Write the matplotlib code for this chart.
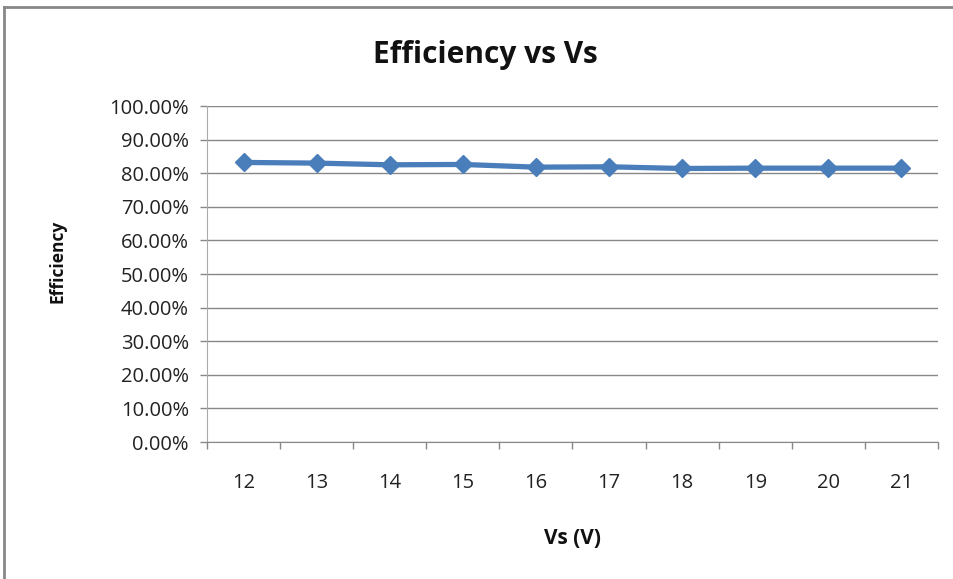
import matplotlib
matplotlib.use("Agg")
import matplotlib.pyplot as plt
from matplotlib.lines import Line2D
from matplotlib.ticker import FixedLocator, PercentFormatter

vs = [12, 13, 14, 15, 16, 17, 18, 19, 20, 21]
efficiency = [83.2, 83.0, 82.5, 82.6, 81.8, 81.9, 81.4, 81.5, 81.5, 81.5]
yticks = [0, 10, 20, 30, 40, 50, 60, 70, 80, 90, 100]

plt.rcParams['font.family'] = ['Open Sans', 'DejaVu Sans']

fig = plt.figure(figsize=(9.54, 5.79), dpi=100)
ax = fig.add_axes([207/954, 1-442/579, (938-207)/954, (442-106)/579])

xpos = list(range(len(vs)))
ax.plot(xpos, efficiency, color='#4A7EBB', lw=3.8, marker='D', ms=9.5,
        markerfacecolor='#4A7EBB', markeredgecolor='#4A7EBB', zorder=3)

ax.set_xlim(-0.5, len(vs) - 0.5)
ax.set_ylim(0, 100)
ax.set_yticks(yticks)
ax.yaxis.set_major_formatter(PercentFormatter(decimals=2))
ax.set_xticks(xpos)
ax.set_xticklabels([str(v) for v in vs])
ax.xaxis.set_minor_locator(FixedLocator([i - 0.5 for i in range(len(vs) + 1)]))
ax.tick_params(axis='x', which='major', length=0, pad=22, labelsize=14.5, labelcolor='#222222')
ax.tick_params(axis='x', which='minor', length=5, width=1, color='#888888', direction='out')
ax.tick_params(axis='y', length=5, width=1, color='#888888', direction='out', pad=8,
               labelsize=14.5, labelcolor='#222222')

ax.grid(axis='y', color='#878787', lw=1)
ax.set_axisbelow(True)
for s in ['top', 'right']:
    ax.spines[s].set_visible(False)
ax.spines['left'].set_color('#AAAAAA')
ax.spines['bottom'].set_color('#888888')

fig.text(485/954, 1-55/579, 'Efficiency vs Vs', ha='center', va='center',
         fontsize=21.5, fontweight='bold', color='#111111')
fig.text(58/954, 1-261/579, 'Efficiency', ha='center', va='center', rotation=90,
         fontsize=12.5, fontweight='bold', color='#111111')
fig.text(572/954, 1-538/579, 'Vs (V)', ha='center', va='center',
         fontsize=15, fontweight='bold', color='#111111')

# chart border (left and top visible)
fig.add_artist(Line2D([4.5/954, 4.5/954], [0, 1-7/579], transform=fig.transFigure,
                      color='#888888', lw=2))
fig.add_artist(Line2D([4.5/954, 1], [1-7/579, 1-7/579], transform=fig.transFigure,
                      color='#888888', lw=2))

fig.savefig('out.png', dpi=100)
